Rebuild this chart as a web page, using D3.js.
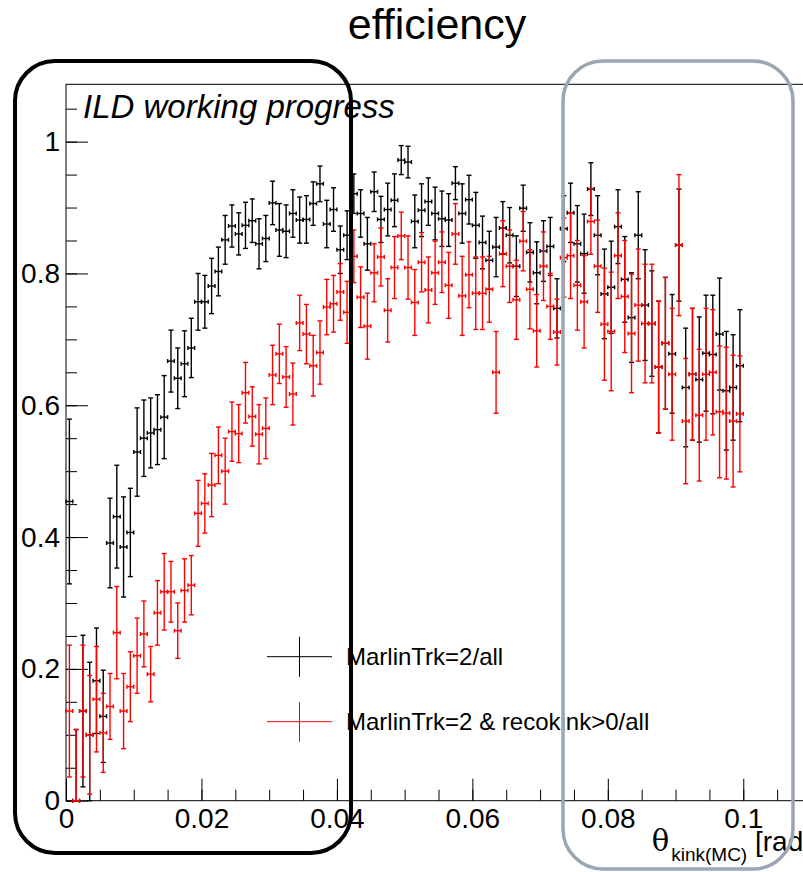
<!DOCTYPE html>
<html>
<head>
<meta charset="utf-8">
<script src="https://cdn.jsdelivr.net/npm/d3@7"></script>
<style>
  body { margin: 0; background: #fff; }
  svg { display: block; font-family: "Liberation Sans", Arial, sans-serif; }
</style>
</head>
<body>
<script>
// efficiency per 0.001 rad bin of theta_kink(MC), 100 bins from 0 to 0.1
var binWidth = 0.001;
var nBins = 100;

var allEff = [
  0.454, 0.000, 0.136, 0.100, 0.182, 0.128, 0.391, 0.431, 0.385, 0.407,
  0.529, 0.550, 0.558, 0.563, 0.582, 0.667, 0.641, 0.663, 0.687, 0.757,
  0.757, 0.781, 0.803, 0.851, 0.872, 0.860, 0.873, 0.880, 0.845, 0.853,
  0.907, 0.866, 0.864, 0.891, 0.881, 0.882, 0.906, 0.936, 0.875, 0.897,
  0.836, 0.858, 0.921, 0.891, 0.845, 0.924, 0.882, 0.897, 0.911, 0.972,
  0.969, 0.879, 0.896, 0.909, 0.891, 0.883, 0.881, 0.937, 0.891, 0.912,
  0.873, 0.847, 0.820, 0.840, 0.869, 0.858, 0.811, 0.899, 0.832, 0.801,
  0.834, 0.841, 0.747, 0.868, 0.892, 0.845, 0.830, 0.928, 0.858, 0.769,
  0.779, 0.871, 0.791, 0.733, 0.858, 0.752, 0.724, 0.658, 0.694, 0.678,
  0.843, 0.627, 0.647, 0.639, 0.679, 0.677, 0.708, 0.622, 0.627, 0.660
];
var allErr = [
  0.125, 0.108, 0.115, 0.110, 0.080, 0.070, 0.068, 0.078, 0.076, 0.067,
  0.067, 0.058, 0.053, 0.053, 0.063, 0.047, 0.046, 0.050, 0.045, 0.043,
  0.040, 0.042, 0.037, 0.037, 0.032, 0.032, 0.035, 0.033, 0.038, 0.035,
  0.033, 0.040, 0.040, 0.036, 0.035, 0.036, 0.033, 0.027, 0.036, 0.033,
  0.036, 0.037, 0.030, 0.036, 0.040, 0.030, 0.035, 0.040, 0.040, 0.022,
  0.024, 0.040, 0.040, 0.036, 0.040, 0.042, 0.040, 0.025, 0.045, 0.037,
  0.050, 0.040, 0.044, 0.045, 0.040, 0.042, 0.046, 0.035, 0.045, 0.047,
  0.046, 0.044, 0.045, 0.050, 0.045, 0.058, 0.060, 0.040, 0.060, 0.068,
  0.070, 0.056, 0.065, 0.068, 0.066, 0.084, 0.080, 0.100, 0.100, 0.090,
  0.085, 0.090, 0.100, 0.095, 0.088, 0.090, 0.085, 0.090, 0.080, 0.085
];

var kinkEff = [
  0.136, 0.000, 0.136, 0.100, 0.154, 0.103, 0.143, 0.255, 0.136, 0.173,
  0.220, 0.253, 0.192, 0.285, 0.317, 0.317, 0.258, 0.319, 0.327, 0.436,
  0.451, 0.479, 0.524, 0.500, 0.560, 0.557, 0.619, 0.583, 0.556, 0.565,
  0.646, 0.678, 0.643, 0.617, 0.725, 0.708, 0.660, 0.680, 0.749, 0.754,
  0.772, 0.741, 0.826, 0.764, 0.720, 0.801, 0.825, 0.744, 0.809, 0.857,
  0.809, 0.756, 0.817, 0.775, 0.801, 0.817, 0.782, 0.860, 0.766, 0.798,
  0.770, 0.770, 0.776, 0.650, 0.830, 0.811, 0.760, 0.849, 0.776, 0.713,
  0.811, 0.750, 0.711, 0.824, 0.827, 0.782, 0.757, 0.879, 0.811, 0.723,
  0.712, 0.827, 0.765, 0.709, 0.752, 0.724, 0.724, 0.658, 0.694, 0.647,
  0.843, 0.576, 0.647, 0.585, 0.647, 0.650, 0.590, 0.588, 0.576, 0.587
];
var kinkErr = [
  0.100, 0.108, 0.100, 0.090, 0.080, 0.060, 0.050, 0.070, 0.057, 0.053,
  0.057, 0.050, 0.042, 0.049, 0.058, 0.046, 0.042, 0.048, 0.045, 0.050,
  0.045, 0.048, 0.043, 0.050, 0.045, 0.044, 0.046, 0.045, 0.045, 0.046,
  0.045, 0.045, 0.046, 0.047, 0.042, 0.045, 0.046, 0.048, 0.042, 0.043,
  0.043, 0.047, 0.040, 0.046, 0.050, 0.044, 0.044, 0.048, 0.047, 0.036,
  0.048, 0.050, 0.045, 0.050, 0.048, 0.046, 0.050, 0.046, 0.060, 0.050,
  0.055, 0.055, 0.050, 0.062, 0.050, 0.055, 0.060, 0.045, 0.060, 0.055,
  0.052, 0.050, 0.050, 0.060, 0.065, 0.068, 0.070, 0.050, 0.070, 0.085,
  0.090, 0.065, 0.085, 0.090, 0.085, 0.090, 0.090, 0.100, 0.100, 0.100,
  0.107, 0.095, 0.100, 0.100, 0.100, 0.095, 0.100, 0.100, 0.100, 0.088
];

var xLabels = ["0", "0.02", "0.04", "0.06", "0.08", "0.1"];
var xMajor = [0, 0.02, 0.04, 0.06, 0.08, 0.1];
var yLabels = ["0", "0.2", "0.4", "0.6", "0.8", "1"];
var yMajor = [0, 0.2, 0.4, 0.6, 0.8, 1.0];

var legendNames = ["MarlinTrk=2/all", "MarlinTrk=2 & recokink>0/all"];
var colors = ["#000000", "#ff0000"];

var W = 803, H = 872;
var svg = d3.select("body").append("svg")
  .attr("width", W)
  .attr("height", H);

svg.append("rect").attr("width", W).attr("height", H).attr("fill", "#fff");

var x = d3.scaleLinear().domain([0, 0.11]).range([66, 811]);
var y = d3.scaleLinear().domain([0, 1.087]).range([800.7, 84.3]);

// frame
svg.append("rect")
  .attr("x", x(0)).attr("y", y(1.087))
  .attr("width", x(0.11) - x(0)).attr("height", y(0) - y(1.087))
  .attr("fill", "none").attr("stroke", "#000").attr("stroke-width", 1);

// minor ticks
var xMinor = d3.range(0, 0.1101, 0.005);
var yMinor = d3.range(0, 1.0501, 0.05);

svg.append("g")
  .attr("transform", "translate(0," + y(0) + ")")
  .call(d3.axisBottom(x).tickValues(xMinor).tickSize(-11).tickFormat(""))
  .call(function(g) { g.select(".domain").remove(); });

svg.append("g")
  .attr("transform", "translate(" + x(0) + ",0)")
  .call(d3.axisLeft(y).tickValues(yMinor).tickSize(-11).tickFormat(""))
  .call(function(g) { g.select(".domain").remove(); });

// major ticks + labels
var xAxis = svg.append("g")
  .attr("transform", "translate(0," + y(0) + ")")
  .call(d3.axisBottom(x).tickValues(xMajor).tickSize(-22).tickPadding(7)
    .tickFormat(function(d, i) { return xLabels[i]; }));
xAxis.select(".domain").remove();
xAxis.selectAll("text")
  .attr("font-size", 28).attr("font-family", "Liberation Sans, Arial, sans-serif")
  .attr("fill", "#000");

var yAxis = svg.append("g")
  .attr("transform", "translate(" + x(0) + ",0)")
  .call(d3.axisLeft(y).tickValues(yMajor).tickSize(-22).tickPadding(6)
    .tickFormat(function(d, i) { return yLabels[i]; }));
yAxis.select(".domain").remove();
yAxis.selectAll("text")
  .attr("font-size", 28).attr("font-family", "Liberation Sans, Arial, sans-serif")
  .attr("fill", "#000");

svg.selectAll(".tick line").attr("stroke", "#000").attr("stroke-width", 1);

// error bar points
function drawSeries(values, errs, color) {
  var pts = values.map(function(v, i) {
    return { c: (i + 0.5) * binWidth, v: v, lo: Math.max(0, v - errs[i]), hi: Math.min(1, v + errs[i]) };
  });
  var g = svg.append("g")
    .attr("stroke", color)
    .attr("stroke-width", 1.4)
    .attr("fill", "none");
  var p = g.selectAll("g").data(pts).enter().append("g");
  // horizontal bin-width bar
  p.append("line")
    .attr("x1", function(d) { return x(d.c - binWidth / 2); })
    .attr("x2", function(d) { return x(d.c + binWidth / 2); })
    .attr("y1", function(d) { return y(d.v); })
    .attr("y2", function(d) { return y(d.v); });
  p.append("line")
    .attr("x1", function(d) { return x(d.c - binWidth / 2); })
    .attr("x2", function(d) { return x(d.c - binWidth / 2); })
    .attr("y1", function(d) { return y(d.v) - 2; })
    .attr("y2", function(d) { return y(d.v) + 2; });
  p.append("line")
    .attr("x1", function(d) { return x(d.c + binWidth / 2); })
    .attr("x2", function(d) { return x(d.c + binWidth / 2); })
    .attr("y1", function(d) { return y(d.v) - 2; })
    .attr("y2", function(d) { return y(d.v) + 2; });
  // vertical error bar
  p.append("line")
    .attr("x1", function(d) { return x(d.c); })
    .attr("x2", function(d) { return x(d.c); })
    .attr("y1", function(d) { return y(d.hi); })
    .attr("y2", function(d) { return y(d.lo); });
  p.append("line")
    .attr("x1", function(d) { return x(d.c) - 2.5; })
    .attr("x2", function(d) { return x(d.c) + 2.5; })
    .attr("y1", function(d) { return y(d.hi); })
    .attr("y2", function(d) { return y(d.hi); });
  p.append("line")
    .attr("x1", function(d) { return x(d.c) - 2.5; })
    .attr("x2", function(d) { return x(d.c) + 2.5; })
    .attr("y1", function(d) { return y(d.lo); })
    .attr("y2", function(d) { return y(d.lo); });
}

drawSeries(allEff, allErr, colors[0]);
drawSeries(kinkEff, kinkErr, colors[1]);

// title
svg.append("text")
  .attr("x", 437).attr("y", 39)
  .attr("text-anchor", "middle")
  .attr("font-size", 43)
  .text("efficiency");

svg.append("text")
  .attr("x", 83).attr("y", 118)
  .attr("font-size", 33)
  .attr("font-style", "italic")
  .text("ILD working progress");

// x axis title, right aligned at the axis end
var xt = svg.append("text")
  .attr("x", x(0.11)).attr("y", 851)
  .attr("text-anchor", "end")
  .attr("font-size", 28);
xt.append("tspan").attr("font-family", "DejaVu Serif, serif").attr("font-size", 29).text("θ");
xt.append("tspan").attr("font-size", 19).attr("dx", 2).attr("dy", 10).text("kink(MC)");
xt.append("tspan").attr("dy", -10).text(" [rad]");

// legend
var legY = [656.7, 721.7];
var leg = svg.selectAll(".leg").data(legendNames).enter().append("g").attr("class", "leg");
leg.append("line")
  .attr("x1", 267).attr("x2", 332)
  .attr("y1", function(d, i) { return legY[i]; })
  .attr("y2", function(d, i) { return legY[i]; })
  .attr("stroke", function(d, i) { return colors[i]; });
leg.append("line")
  .attr("x1", 299.5).attr("x2", 299.5)
  .attr("y1", function(d, i) { return legY[i] - 20; })
  .attr("y2", function(d, i) { return legY[i] + 20; })
  .attr("stroke", function(d, i) { return colors[i]; });
leg.append("text")
  .attr("x", 346)
  .attr("y", function(d, i) { return legY[i]; })
  .attr("dy", "0.35em")
  .attr("font-size", 24)
  .text(function(d) { return d; });

// highlight boxes drawn over the plot
svg.append("rect")
  .attr("x", 15).attr("y", 61).attr("width", 336).attr("height", 792)
  .attr("rx", 40).attr("ry", 40)
  .attr("fill", "none").attr("stroke", "#000").attr("stroke-width", 4);

svg.append("rect")
  .attr("x", 563).attr("y", 61).attr("width", 230).attr("height", 808)
  .attr("rx", 40).attr("ry", 40)
  .attr("fill", "none").attr("stroke", "#9aa6b4").attr("stroke-width", 3.5);
</script>
</body>
</html>
